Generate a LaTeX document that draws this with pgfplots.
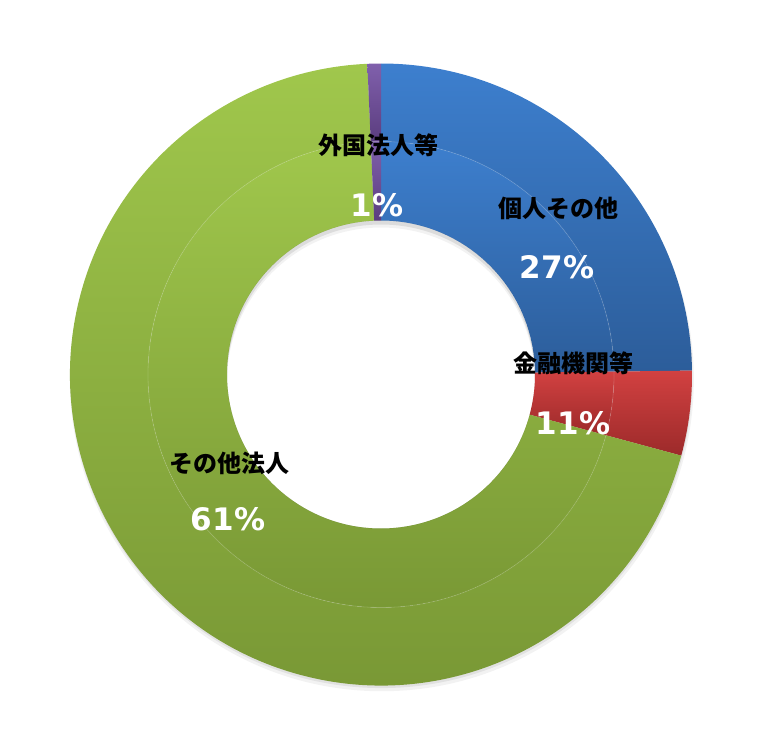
\documentclass[border=0pt]{standalone}
\usepackage{pgfplots}
\pgfplotsset{compat=1.18}
\usepackage{pgfplotstable}
\usepackage{fontspec}
\newfontfamily\jp{Noto Sans CJK JP}
\newfontfamily\dv{DejaVu Sans}

\definecolor{bluetop}{HTML}{3D7FCE}
\definecolor{bluebot}{HTML}{2C5D9A}
\definecolor{redtop}{HTML}{D24141}
\definecolor{redbot}{HTML}{9C2A2A}
\definecolor{greentop}{HTML}{A0C74C}
\definecolor{greenbot}{HTML}{779634}
\definecolor{purtop}{HTML}{8060AC}
\definecolor{purbot}{HTML}{5B3D7F}

% share of the full circle drawn by each slice (clockwise from the top)
\pgfplotstableread{
name value
kojin 24.8
kinyu 4.4
sonota 70.1
gaikoku 0.7
}\shares

\newcommand\sector[6]{%
  \shade[top color=#5,bottom color=#6]
    (#1:#3) arc[start angle=#1,end angle=#2,radius=#3]
    -- (#2:#4) arc[start angle=#2,end angle=#1,radius=#4] -- cycle;}

\begin{document}
\begin{tikzpicture}
\path[use as bounding box] (0,0) rectangle (381.5bp,-374.5bp);
\pgfmathsetmacro\aZ{90}
\pgfplotstablegetelem{0}{value}\of\shares
\pgfmathsetmacro\aA{\aZ-3.6*\pgfplotsretval}
\pgfplotstablegetelem{1}{value}\of\shares
\pgfmathsetmacro\aB{\aA-3.6*\pgfplotsretval}
\pgfplotstablegetelem{2}{value}\of\shares
\pgfmathsetmacro\aC{\aB-3.6*\pgfplotsretval}
\pgfplotstablegetelem{3}{value}\of\shares
\pgfmathsetmacro\aD{\aC-3.6*\pgfplotsretval}
\def\Ro{155.5bp}
\def\Rm{116.5bp}
\def\Ri{77bp}
\begin{axis}[
  at={(190.5bp,-187.25bp)}, anchor=origin,
  x=155.5bp, y=155.5bp,
  xmin=-1.1, xmax=1.1, ymin=-1.1, ymax=1.1,
  hide axis, clip=false,
]
\begin{scope}[shift={(axis cs:0,0)}]
  % soft shadow (ring only)
  \fill[black,opacity=0.05,even odd rule] (-80:2.4bp) circle (\Ro+0.5bp) (0:0bp) circle (\Ri);
  \fill[black,opacity=0.07,even odd rule] (-80:1.3bp) circle (\Ro) (0:0bp) circle (\Ri);
  % outer ring
  \sector{\aZ}{\aA}{\Ro}{\Rm}{bluetop}{bluebot}
  \sector{\aA}{\aB}{\Ro}{\Rm}{redtop}{redbot}
  \sector{\aB}{\aC}{\Ro}{\Rm}{greentop}{greenbot}
  \sector{\aC}{\aD}{\Ro}{\Rm}{purtop}{purbot}
  % inner ring
  \sector{\aZ}{\aA}{\Rm}{\Ri}{bluetop}{bluebot}
  \sector{\aA}{\aB}{\Rm}{\Ri}{redtop}{redbot}
  \sector{\aB}{\aC}{\Rm}{\Ri}{greentop}{greenbot}
  \sector{\aC}{\aD}{\Rm}{\Ri}{purtop}{purbot}
  \draw[white,opacity=0.15,line width=0.4bp] (0:0bp) circle (\Rm);
  % shadow inside the hole
  \begin{scope}
    \clip (0:0bp) circle (\Ri);
    \fill[black,opacity=0.09,even odd rule] (0:0bp) circle (\Ri) (-90:2bp) circle (\Ri);
    \fill[black,opacity=0.05,even odd rule] (0:0bp) circle (\Ri) (-90:3.5bp) circle (\Ri);
  \end{scope}
\end{scope}
\end{axis}
\begin{scope}[every node/.style={inner sep=0pt,anchor=center}]
  \node[font=\jp\bfseries\fontsize{12bp}{14bp}\selectfont] at (189bp,-72.5bp) {外国法人等};
  \node[font=\dv\bfseries\fontsize{15.5bp}{18bp}\selectfont,text=white] at (188.5bp,-102.5bp) {1\%};
  \node[font=\jp\bfseries\fontsize{12bp}{14bp}\selectfont] at (279bp,-104bp) {個人その他};
  \node[font=\dv\bfseries\fontsize{15.5bp}{18bp}\selectfont,text=white] at (278.5bp,-133.5bp) {27\%};
  \node[font=\jp\bfseries\fontsize{12bp}{14bp}\selectfont] at (286.5bp,-181.5bp) {金融機関等};
  \node[font=\dv\bfseries\fontsize{15.5bp}{18bp}\selectfont,text=white] at (286.5bp,-211.5bp) {11\%};
  \node[font=\jp\bfseries\fontsize{12bp}{14bp}\selectfont] at (114.5bp,-231.5bp) {その他法人};
  \node[font=\dv\bfseries\fontsize{15.5bp}{18bp}\selectfont,text=white] at (114bp,-259.5bp) {61\%};
\end{scope}
\end{tikzpicture}
\end{document}
